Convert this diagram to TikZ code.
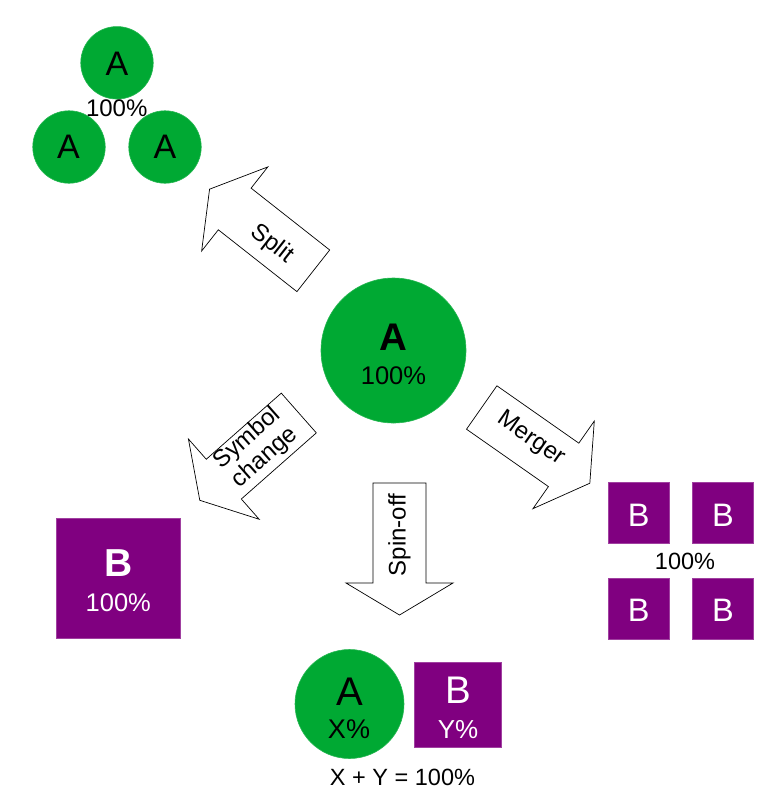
\documentclass[tikz,border=0pt]{standalone}
\usepackage{fontspec}
\setmainfont{Liberation Sans}
\definecolor{agreen}{HTML}{00A933}
\definecolor{bpurple}{HTML}{800080}
\tikzset{
  circ/.style={circle, fill=agreen, draw=agreen!85!white, line width=0.6pt, inner sep=0pt, minimum size=#1},
  sqbox/.style 2 args={rectangle, fill=bpurple, draw=bpurple!75!white, line width=0.8pt, inner sep=0pt, minimum width=#1, minimum height=#2},
  bigarrow/.style={draw=black, fill=white, line width=0.7pt, line join=miter},
  txt/.style={inner sep=0pt, anchor=base, font=\fontsize{#1}{#1}\selectfont},
  btxt/.style={inner sep=0pt, anchor=base, font=\fontsize{#1}{#1}\selectfont\bfseries},
  wtxt/.style={txt=#1, text=white},
  albl/.style={inner sep=0pt, align=center, font=\fontsize{24}{25.5}\selectfont},
}
\newcommand{\fatarrow}{(0,-26.5) -- (100,-26.5) -- (100,-53.5) -- (132,0) -- (100,53.5) -- (100,26.5) -- (0,26.5) -- cycle}
\begin{document}
\begin{tikzpicture}[x=1pt,y=-1pt]
\useasboundingbox (0,0) rectangle (769,796);

% split result
\node[circ=72.5] (atop) at (117,62.8) {};
\node[circ=72.5] (aleft) at (69,147) {};
\node[circ=72.5] (aright) at (165,147) {};
\node[txt=34] (tatop) at (117,75) {A};
\node[txt=34] (taleft) at (68.5,158.3) {A};
\node[txt=34] (taright) at (165,158.3) {A};
\node[txt=24] (tsplit) at (116.7,116.7) {100\%};

% center
\node[circ=145] (center) at (393.5,350.5) {};
\node[btxt=38.5] (tcA) at (393.5,350) {A};
\node[txt=25.5] (tcP) at (393.5,384.3) {100\%};

% arrows
\begin{scope}[shift={(313.3,270.8)}, rotate=141.8]
  \draw[bigarrow] \fatarrow;
\end{scope}
\begin{scope}[shift={(298.8,413)}, rotate=221.4]
  \draw[bigarrow] \fatarrow;
\end{scope}
\begin{scope}[shift={(481.7,407.5)}, rotate=-35]
  \draw[bigarrow] \fatarrow;
\end{scope}
\begin{scope}[shift={(399.5,483)}, rotate=270]
  \draw[bigarrow] \fatarrow;
\end{scope}
\node[albl, rotate=-38.2] (lsplit) at (272,244) {Split};
\node[albl, rotate=41.4] (lsym) at (256,448) {Symbol\\change};
\node[albl, rotate=-35] (lmerge) at (531,439) {Merger};
\node[albl, rotate=90] (lspin) at (399.5,535) {Spin-off};

% symbol change result
\node[sqbox={124}{120}] (bbig) at (118,578.3) {};
\node[btxt=39, text=white] (tbB) at (119,576.7) {B};
\node[wtxt=25.5] (tbP) at (118.3,611.7) {100\%};

% merger result
\node[sqbox={61}{61}] (b1) at (638.8,512.8) {};
\node[sqbox={61}{61}] (b2) at (723,512.8) {};
\node[sqbox={61}{61}] (b3) at (638.8,608.8) {};
\node[sqbox={61}{61}] (b4) at (723,608.8) {};
\node[wtxt=32.5] (tb1) at (638.8,526.7) {B};
\node[wtxt=32.5] (tb2) at (723,526.7) {B};
\node[wtxt=32.5] (tb3) at (638.8,621.7) {B};
\node[wtxt=32.5] (tb4) at (723,621.7) {B};
\node[txt=23.5] (tmerge) at (685,569) {100\%};

% spin-off result
\node[circ=109] (aspin) at (349.5,704) {};
\node[sqbox={87.4}{85}] (bspin) at (458,704.8) {};
\node[txt=40] (tsA) at (350,705) {A};
\node[txt=27] (tsX) at (349,738.3) {X\%};
\node[wtxt=38.5] (tsB) at (458,703.3) {B};
\node[wtxt=26] (tsY) at (458,738.3) {Y\%};
\node[txt=23.5] (tsum) at (402.5,785.7) {X + Y = 100\%};
\end{tikzpicture}
\end{document}
